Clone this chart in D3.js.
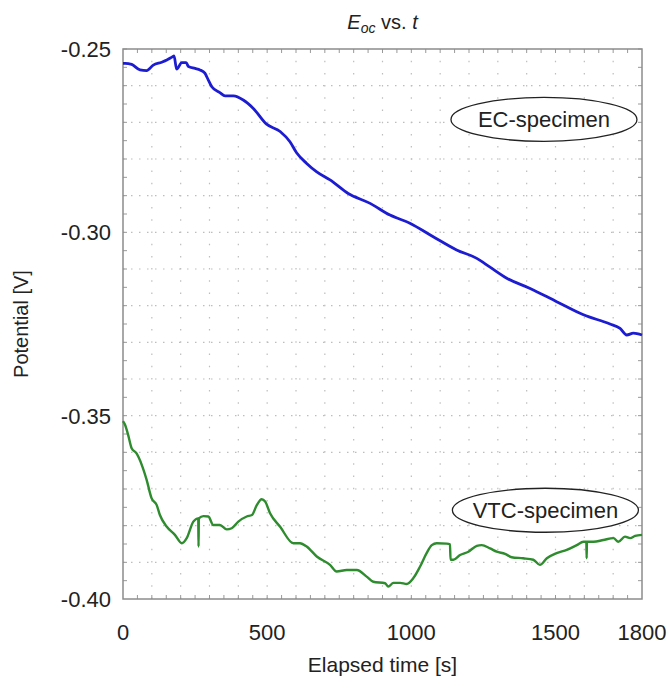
<!DOCTYPE html>
<html><head><meta charset="utf-8">
<script src="https://cdn.jsdelivr.net/npm/d3@7"></script>
<style>body{margin:0;background:#fff;} svg{display:block;font-family:"Liberation Sans",Arial,sans-serif;}</style>
</head><body>
<svg id="chart" width="672" height="680"></svg>
<script>
// ---- data ----
const ecTime = [0,7,30,59,82,105,134,152,172,177,186,204,219,227,250,267,284,296,308,336,354,383,417,452,498,545,579,602,637,672,718,781,857,926,995,1076,1157,1227,1273,1331,1412,1504,1597,1689,1724,1747,1770,1800];
const ecValue = [-0.2539,-0.2539,-0.2542,-0.2557,-0.2559,-0.2544,-0.2536,-0.2530,-0.2521,-0.2519,-0.2555,-0.2537,-0.2537,-0.2548,-0.2553,-0.2557,-0.2566,-0.2585,-0.2603,-0.2619,-0.2628,-0.2628,-0.2639,-0.2662,-0.2705,-0.2725,-0.2753,-0.2783,-0.2812,-0.2835,-0.2857,-0.2894,-0.2921,-0.2953,-0.2975,-0.3012,-0.3048,-0.3071,-0.3095,-0.3125,-0.3153,-0.3189,-0.3225,-0.3250,-0.3262,-0.3280,-0.3275,-0.3280];
const vtcTime = [0,7,18,30,47,65,82,99,117,128,152,180,204,221,244,261,262,263,279,296,313,336,360,377,400,429,447,464,481,493,510,545,591,614,637,672,718,741,776,811,845,868,909,920,938,961,984,1007,1030,1053,1071,1088,1123,1134,1136,1146,1169,1198,1227,1244,1273,1296,1325,1348,1388,1423,1446,1470,1504,1539,1574,1597,1607,1608,1609,1632,1666,1701,1718,1741,1759,1776,1800];
const vtcValue = [-0.3515,-0.3525,-0.3553,-0.3589,-0.3603,-0.3634,-0.3675,-0.3725,-0.3744,-0.3771,-0.3803,-0.3825,-0.3848,-0.3834,-0.3789,-0.3780,-0.3857,-0.3780,-0.3774,-0.3775,-0.3798,-0.3798,-0.3810,-0.3807,-0.3789,-0.3775,-0.3771,-0.3744,-0.3728,-0.3734,-0.3766,-0.3803,-0.3848,-0.3848,-0.3857,-0.3884,-0.3907,-0.3925,-0.3921,-0.3921,-0.3939,-0.3953,-0.3957,-0.3966,-0.3956,-0.3956,-0.3959,-0.3943,-0.3912,-0.3875,-0.3853,-0.3848,-0.3849,-0.3851,-0.3893,-0.3893,-0.3880,-0.3871,-0.3855,-0.3853,-0.3862,-0.3871,-0.3877,-0.3886,-0.3889,-0.3893,-0.3907,-0.3889,-0.3875,-0.3866,-0.3853,-0.3844,-0.3844,-0.3889,-0.3844,-0.3844,-0.3839,-0.3834,-0.3844,-0.3830,-0.3834,-0.3828,-0.3825];
const xTicks = [0,500,1000,1500,1800];
const yTicks = [-0.25,-0.30,-0.35,-0.40];
const seriesNames = ["EC-specimen","VTC-specimen"];
const seriesColors = ["#1c1cd0","#2e8b2e"];

// ---- layout ----
const svg = d3.select("#chart");
const L = 123, R = 642, T = 49, B = 599;
const x = d3.scaleLinear().domain([0,1800]).range([L,R]);
const y = d3.scaleLinear().domain([-0.40,-0.25]).range([B,T]);

// grid
const g = svg.append("g");
g.selectAll("line.hg").data(d3.range(-0.39,-0.2505,0.01)).join("line")
  .attr("x1",L).attr("x2",R).attr("y1",d=>y(d)).attr("y2",d=>y(d))
  .attr("stroke","#bdbdbd").attr("stroke-width",1.2).attr("stroke-dasharray","1.5,6.5");
g.selectAll("line.vg").data(d3.range(100,1800,100)).join("line")
  .attr("x1",d=>x(d)).attr("x2",d=>x(d)).attr("y1",B).attr("y2",T)
  .attr("stroke","#bdbdbd").attr("stroke-width",1.2).attr("stroke-dasharray","1.5,10.7");

// minor ticks
const ticksL = d3.range(-0.395,-0.25,0.005);
svg.selectAll("line.lt").data(ticksL).join("line")
  .attr("x1",L).attr("x2",L+4).attr("y1",d=>y(d)).attr("y2",d=>y(d)).attr("stroke","#999");
svg.selectAll("line.rt").data(ticksL).join("line")
  .attr("x1",R).attr("x2",R-4).attr("y1",d=>y(d)).attr("y2",d=>y(d)).attr("stroke","#999");
const ticksB = d3.range(50,1800,50);
svg.selectAll("line.bt").data(ticksB).join("line")
  .attr("x1",d=>x(d)).attr("x2",d=>x(d)).attr("y1",B).attr("y2",B-4).attr("stroke","#999");
svg.selectAll("line.tt").data(ticksB).join("line")
  .attr("x1",d=>x(d)).attr("x2",d=>x(d)).attr("y1",T).attr("y2",T+4).attr("stroke","#999");

// frame
svg.append("rect").attr("x",L).attr("y",T).attr("width",R-L).attr("height",B-T)
  .attr("fill","none").attr("stroke","#8c8c8c").attr("stroke-width",1.5);

// lines
const line = d3.line().x(d=>x(d[0])).y(d=>y(d[1])).curve(d3.curveMonotoneX);
svg.append("path").datum(ecTime.map((t,i)=>[t,ecValue[i]])).attr("d",line)
  .attr("fill","none").attr("stroke",seriesColors[0]).attr("stroke-width",2.8).attr("stroke-linejoin","round");
svg.append("path").datum(vtcTime.map((t,i)=>[t,vtcValue[i]])).attr("d",line)
  .attr("fill","none").attr("stroke",seriesColors[1]).attr("stroke-width",2.4).attr("stroke-linejoin","round");

// tick labels
svg.selectAll("text.yl").data(yTicks).join("text")
  .attr("x",L-12).attr("y",d=>y(d)).attr("dy","0.36em").attr("text-anchor","end")
  .attr("font-size",22).attr("fill","#222").text(d=>d.toFixed(2));
svg.selectAll("text.xl").data(xTicks).join("text")
  .attr("x",d=>x(d)).attr("y",640).attr("text-anchor","middle")
  .attr("font-size",22).attr("fill","#222").text(d=>d);

// axis titles
svg.append("text").attr("x",(L+R)/2).attr("y",672).attr("text-anchor","middle")
  .attr("font-size",21).attr("fill","#222").text("Elapsed time [s]");
svg.append("text").attr("transform",`translate(28,${(T+B)/2}) rotate(-90)`).attr("text-anchor","middle")
  .attr("font-size",20).attr("fill","#222").text("Potential [V]");

// title
const title = svg.append("text").attr("x",(L+R)/2).attr("y",29).attr("text-anchor","middle")
  .attr("font-size",20).attr("fill","#222");
title.append("tspan").attr("font-style","italic").text("E");
title.append("tspan").attr("font-style","italic").attr("font-size",14).attr("dy",4).text("oc");
title.append("tspan").attr("dy",-4).text(" vs. ");
title.append("tspan").attr("font-style","italic").text("t");

// annotations
const ann = [{name:seriesNames[0], t:1460, v:-0.2692},{name:seriesNames[1], t:1465, v:-0.3758}];
ann.forEach(a=>{
  svg.append("ellipse").attr("cx",x(a.t)).attr("cy",y(a.v)).attr("rx",93).attr("ry",22)
    .attr("fill","#fff").attr("stroke","#222").attr("stroke-width",1.3);
  svg.append("text").attr("x",x(a.t)).attr("y",y(a.v)).attr("dy","0.36em").attr("text-anchor","middle")
    .attr("font-size",22).attr("fill","#222").text(a.name);
});
</script>
</body></html>
